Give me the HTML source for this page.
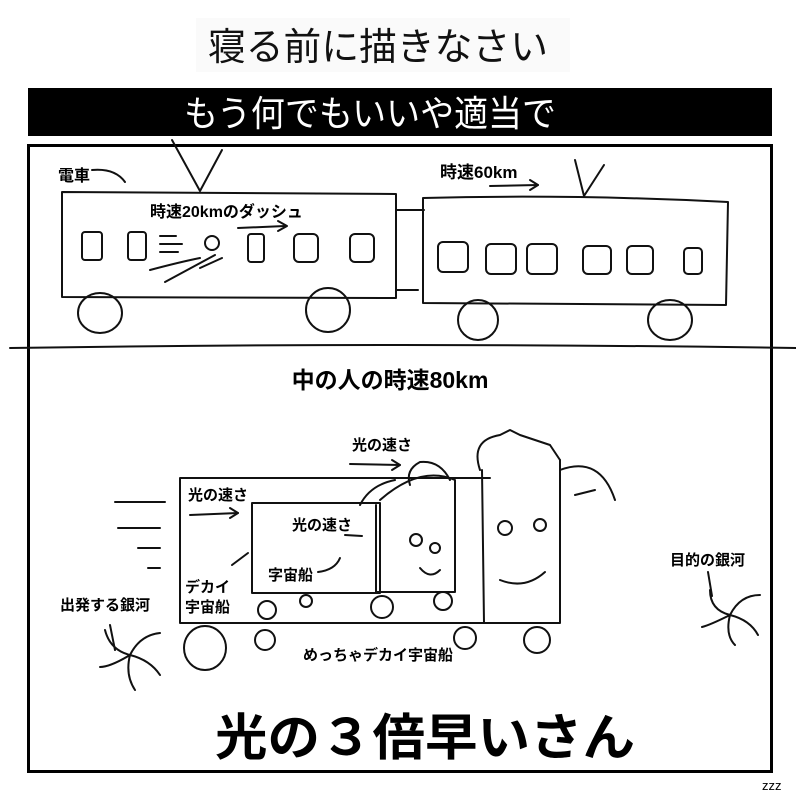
<!DOCTYPE html>
<html><head><meta charset="utf-8"><style>
html,body{margin:0;padding:0;background:#fff;}
svg{display:block;}
text{font-family:"Liberation Sans","Noto Sans CJK JP",sans-serif;}
</style></head><body>
<svg width="796" height="800" viewBox="0 0 796 800" xmlns="http://www.w3.org/2000/svg">
<rect width="796" height="800" fill="#fff"/>
<rect x="196" y="18" width="374" height="54" fill="#fafafa"/>
<text x="378" y="60" font-size="38" text-anchor="middle" fill="#111" textLength="340" lengthAdjust="spacingAndGlyphs">寝る前に描きなさい</text>
<rect x="28" y="88" width="744" height="48" fill="#000"/>
<text x="370" y="126" font-size="36" text-anchor="middle" fill="#fff" textLength="372" lengthAdjust="spacingAndGlyphs">もう何でもいいや適当で</text>
<rect x="28.5" y="145.5" width="743" height="626" fill="none" stroke="#000" stroke-width="3"/>
<g fill="none" stroke="#111" stroke-width="2" stroke-linecap="round" stroke-linejoin="round">
<path d="M10 348 Q400 342 796 348"/>
<!-- train 1 -->
<path d="M62 192 L396 194 L396 298 L62 297 Z"/>
<path d="M172 140 L200 191 L222 150"/>
<path d="M396 210 L424 210 M396 290 L418 290"/>
<ellipse cx="100" cy="313" rx="22" ry="20"/><ellipse cx="328" cy="310" rx="22" ry="22"/>
<rect x="82" y="232" width="20" height="28" rx="3"/><rect x="128" y="232" width="18" height="28" rx="3"/><rect x="248" y="234" width="16" height="28" rx="3"/><rect x="294" y="234" width="24" height="28" rx="5"/><rect x="350" y="234" width="24" height="28" rx="5"/>
<path d="M160 236h16 M160 244h22 M160 252h18 M150 270 Q180 262 200 258 M165 282 L215 255 M200 268 L222 258"/>
<circle cx="212" cy="243" r="7"/><path d="M238 228 L285 226"/><path d="M278 221 L287 226 L278 231"/>
<path d="M92 170 Q115 168 125 182"/>
<!-- train 2 -->
<path d="M423 198 Q570 194 728 202 L726 305 L423 303 Z"/>
<path d="M575 160 L584 196 L604 165"/>
<ellipse cx="478" cy="320" rx="20" ry="20"/><ellipse cx="670" cy="320" rx="22" ry="20"/>
<rect x="438" y="242" width="30" height="30" rx="5"/><rect x="486" y="244" width="30" height="30" rx="5"/><rect x="527" y="244" width="30" height="30" rx="5"/><rect x="583" y="246" width="28" height="28" rx="5"/><rect x="627" y="246" width="26" height="28" rx="5"/><rect x="684" y="248" width="18" height="26" rx="4"/>
<path d="M490 186 L538 185"/><path d="M530 180 L538 185 L530 190"/>
<!-- bottom ships -->
<path d="M180 478 L490 478 M180 478 L180 623 L485 623"/>
<path d="M252 503 L380 503 L380 593 L252 593 Z"/>
<path d="M376 505 L376 592 L455 592 L455 500"/>
<path d="M482 470 L484 623 L560 623 L560 460"/>
<path d="M480 470 Q470 440 500 435 L510 430 L520 435 L535 440 L550 445 L560 460"/>
<path d="M380 500 Q420 465 455 480 L455 500"/>
<path d="M410 485 Q405 470 420 462 Q440 460 450 480"/>
<path d="M360 505 Q370 485 395 480 M560 470 Q600 455 615 500 M575 495 L595 490"/>
<circle cx="416" cy="540" r="6"/><circle cx="435" cy="548" r="5"/><path d="M420 568 Q430 580 440 570"/>
<circle cx="505" cy="528" r="7"/><circle cx="540" cy="525" r="6"/><path d="M500 580 Q525 590 545 572"/>
<circle cx="267" cy="610" r="9"/><circle cx="306" cy="601" r="6"/><circle cx="382" cy="607" r="11"/><circle cx="443" cy="601" r="9"/>
<ellipse cx="205" cy="648" rx="21" ry="22"/><circle cx="265" cy="640" r="10"/><circle cx="465" cy="638" r="11"/><circle cx="537" cy="640" r="13"/>
<path d="M115 502 L165 502 M118 528 L160 528 M138 548 L160 548 M148 568 L160 568"/>
<path d="M190 515 L238 513"/><path d="M230 508 L238 513 L230 518"/>
<path d="M350 464 L400 465"/><path d="M392 460 L400 465 L392 470"/>
<path d="M345 535 L362 536"/>
<path d="M232 565 L248 553"/><path d="M318 572 Q335 570 340 558"/>
<!-- galaxies -->
<g transform="translate(130,655)"><path d="M0 0 Q-20 -5 -25 -25 M0 0 Q10 -20 30 -22 M0 0 Q20 5 30 20 M0 0 Q-5 20 5 35 M0 0 Q-20 12 -30 12"/></g>
<g transform="translate(730,615)"><path d="M0 0 Q-20 -5 -20 -25 M0 0 Q10 -20 30 -20 M0 0 Q20 5 28 20 M0 0 Q-5 20 5 30 M0 0 Q-20 10 -28 12"/></g>
<path d="M110 625 L115 650 M708 572 L712 596"/>
</g>
<text x="58" y="181" font-size="16" font-weight="bold">電車</text>
<text x="440" y="178" font-size="17" font-weight="bold">時速60km</text>
<text x="150" y="217" font-size="16" font-weight="bold">時速20kmのダッシュ</text>
<text x="390" y="388" font-size="23" font-weight="bold" text-anchor="middle">中の人の時速80km</text>
<text x="352" y="450" font-size="15" font-weight="bold">光の速さ</text>
<text x="188" y="500" font-size="15" font-weight="bold">光の速さ</text>
<text x="292" y="530" font-size="15" font-weight="bold">光の速さ</text>
<text x="268" y="580" font-size="15" font-weight="bold">字宙船</text>
<text x="185" y="592" font-size="15" font-weight="bold">デカイ</text>
<text x="185" y="612" font-size="15" font-weight="bold">宇宙船</text>
<text x="60" y="610" font-size="15" font-weight="bold">出発する銀河</text>
<text x="670" y="565" font-size="15" font-weight="bold">目的の銀河</text>
<text x="303" y="660" font-size="15" font-weight="bold">めっちゃデカイ宇宙船</text>
<text x="425" y="755" font-size="50" font-weight="bold" text-anchor="middle" textLength="420" lengthAdjust="spacingAndGlyphs">光の３倍早いさん</text>
<text x="762" y="790" font-size="13">zzz</text>
</svg>
</body></html>
